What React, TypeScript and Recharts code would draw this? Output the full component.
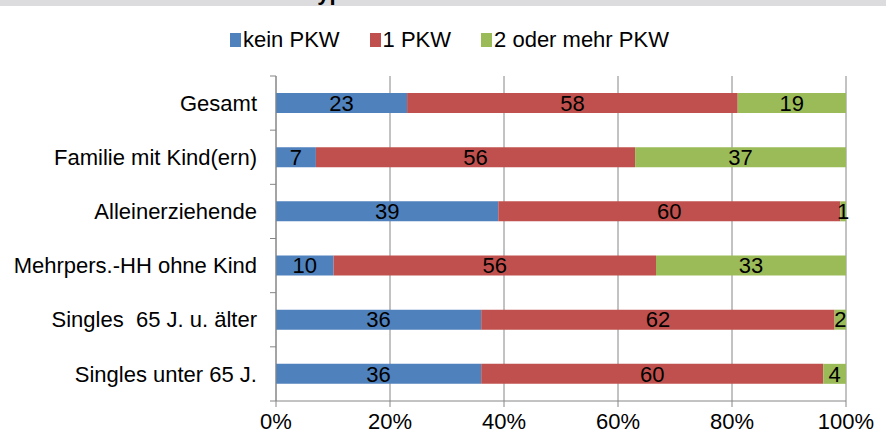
import { BarChart, Bar, XAxis, YAxis, CartesianGrid, LabelList } from 'recharts'

const categories = [
  'Gesamt',
  'Familie mit Kind(ern)',
  'Alleinerziehende',
  'Mehrpers.-HH ohne Kind',
  'Singles  65 J. u. älter',
  'Singles unter 65 J.',
]
const keinPkw = [23, 7, 39, 10, 36, 36]
const einPkw = [58, 56, 60, 56, 62, 60]
const zweiPkw = [19, 37, 1, 33, 2, 4]
const xTicks = [0, 0.2, 0.4, 0.6, 0.8, 1]

const series = [
  { key: 'kein', name: 'kein PKW', color: '#4F81BD' },
  { key: 'eins', name: '1 PKW', color: '#C0504D' },
  { key: 'zwei', name: '2 oder mehr PKW', color: '#9BBB59' },
]

const data = categories.map((name, i) => ({
  name,
  kein: keinPkw[i],
  eins: einPkw[i],
  zwei: zweiPkw[i],
}))

const FONT = '"Liberation Sans", Arial, sans-serif'
const PLOT_TOP = 76
const PLOT_BOTTOM = 401
const AXIS_X = 276
const BAND = (PLOT_BOTTOM - PLOT_TOP) / categories.length

function CategoryTick(props: any) {
  const { y, payload, index } = props
  const last = index === categories.length - 1
  return (
    <g>
      <text
        x={AXIS_X - 19}
        y={y}
        dy="0.35em"
        textAnchor="end"
        fill="#000"
        fontSize={22}
        fontFamily={FONT}
        style={{ whiteSpace: 'pre' }}
      >
        {payload.value}
      </text>
      <line x1={AXIS_X - 6} x2={AXIS_X} y1={y - BAND / 2} y2={y - BAND / 2} stroke="#868686" />
      {last && (
        <line x1={AXIS_X - 6} x2={AXIS_X} y1={y + BAND / 2} y2={y + BAND / 2} stroke="#868686" />
      )}
    </g>
  )
}

export default function App() {
  return (
    <div
      style={{
        position: 'absolute',
        left: 0,
        top: 0,
        width: 886,
        height: 439,
        background: '#fff',
        fontFamily: FONT,
        overflow: 'hidden',
      }}
    >
      {/* clipped title band */}
      <div
        style={{
          position: 'absolute',
          left: 0,
          top: 0,
          width: 886,
          height: 6,
          background: '#DCDCDE',
          overflow: 'hidden',
        }}
      >
        <div
          style={{
            position: 'absolute',
            right: 886 - 343,
            top: -20,
            fontSize: 22,
            fontWeight: 'bold',
            lineHeight: '25px',
            whiteSpace: 'nowrap',
            color: '#000',
          }}
        >
          PKW-Besitz nach Haushaltstyp
        </div>
      </div>

      {/* Legend */}
      <div
        style={{
          position: 'absolute',
          left: 230,
          top: 27,
          display: 'flex',
          alignItems: 'center',
          gap: 30,
          fontSize: 22,
          color: '#000',
        }}
      >
        {series.map((s) => (
          <div key={s.key} style={{ display: 'flex', alignItems: 'center', gap: 2 }}>
            <span style={{ width: 11, height: 14, background: s.color, display: 'inline-block' }} />
            <span>{s.name}</span>
          </div>
        ))}
      </div>

      <BarChart
        width={886}
        height={439}
        data={data}
        layout="vertical"
        stackOffset="expand"
        margin={{ top: PLOT_TOP, right: 40, left: 0, bottom: 0 }}
      >
        <CartesianGrid horizontal={false} vertical stroke="#868686" />
        <XAxis
          type="number"
          domain={[0, 1]}
          ticks={xTicks}
          tickFormatter={(v: number) => `${Math.round(v * 100)}%`}
          height={439 - PLOT_BOTTOM}
          axisLine={{ stroke: '#868686' }}
          tickLine={{ stroke: '#868686' }}
          tickSize={6}
          tickMargin={6}
          tick={{ fill: '#000', fontSize: 22, fontFamily: FONT }}
          interval={0}
        />
        <YAxis
          type="category"
          dataKey="name"
          width={AXIS_X}
          axisLine={{ stroke: '#868686' }}
          tickLine={false}
          tick={<CategoryTick />}
          interval={0}
        />
        {series.map((s) => (
          <Bar
            key={s.key}
            dataKey={s.key}
            name={s.name}
            stackId="a"
            fill={s.color}
            barSize={20}
            isAnimationActive={false}
          >
            <LabelList
              dataKey={s.key}
              position="center"
              fill="#000"
              fontSize={22}
              fontFamily={FONT}
            />
          </Bar>
        ))}
      </BarChart>
    </div>
  )
}
